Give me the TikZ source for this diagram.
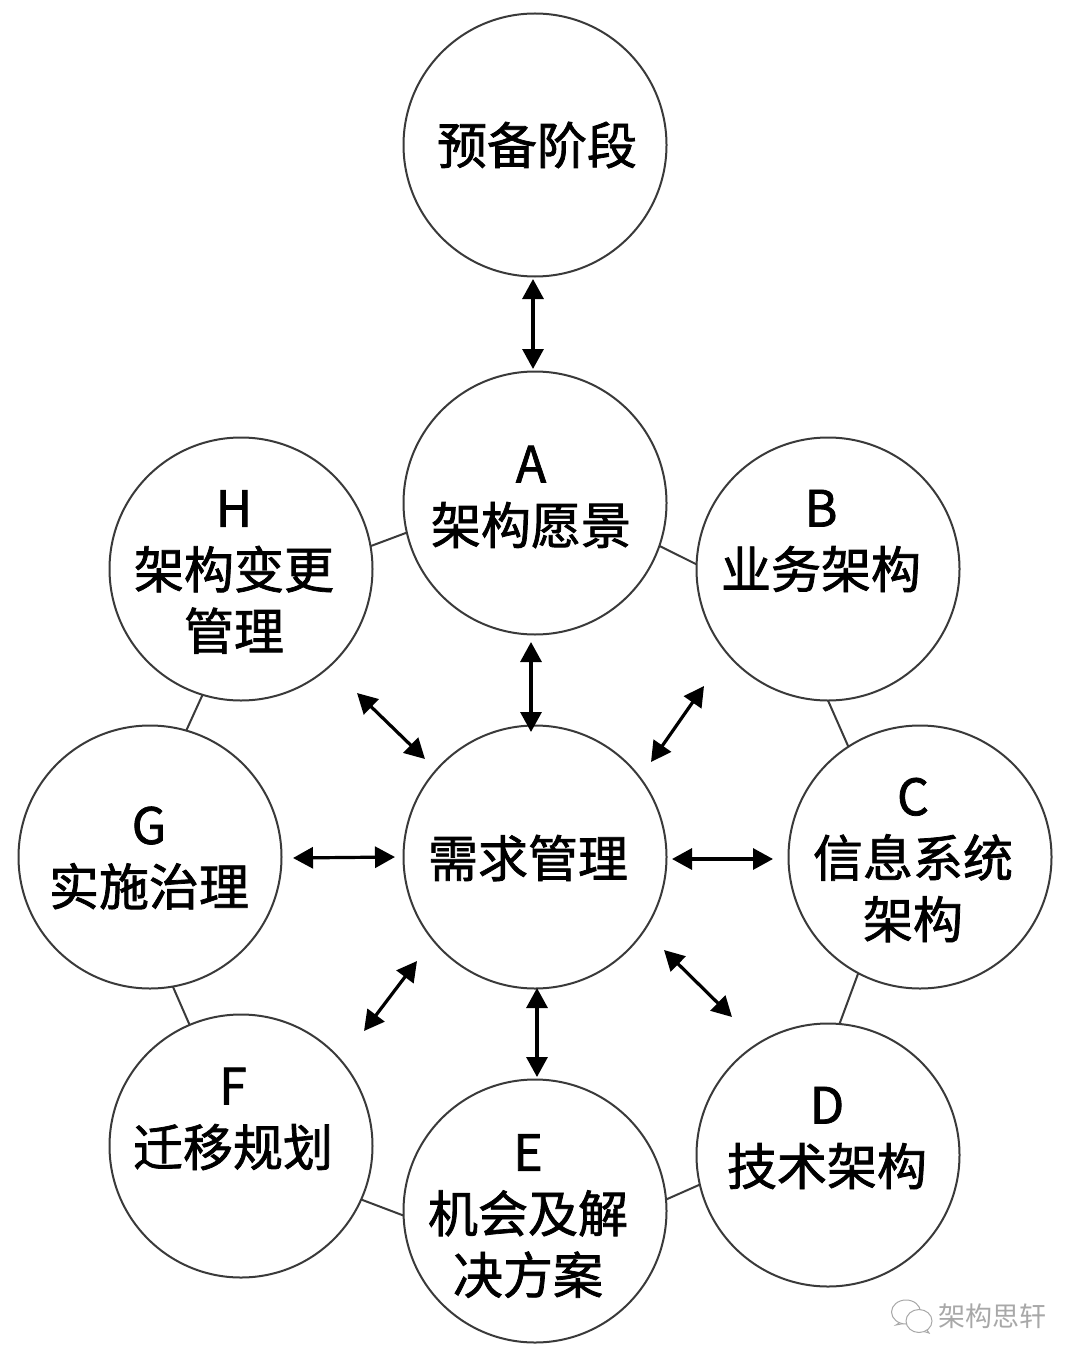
\documentclass[tikz,border=0pt]{standalone}
\usepackage{fontspec}
\setmainfont{Noto Sans CJK SC}
\newfontfamily\phasefont[FakeBold=1.5]{Noto Sans CJK SC}
\usetikzlibrary{arrows.meta,shapes.geometric}
\definecolor{ringline}{HTML}{3A3A3A}
\definecolor{markgray}{HTML}{A8A8A8}
\tikzset{
	phase/.style={circle,draw=ringline,line width=2pt,fill=white,minimum size=263pt,inner sep=0pt,outer sep=0pt},
	phasetext/.style={align=center,text=black,inner sep=0pt,font=\phasefont\fontsize{50}{61.5}\selectfont},
	link/.style={line width=3.2pt,{Triangle[width=21pt,length=20pt]}-{Triangle[width=21pt,length=20pt]}},
	ring/.style={line width=2pt,color=ringline},
	bubble/.style={line width=1pt,color=markgray,fill=white}
}
\begin{document}
\begin{tikzpicture}[x=1pt,y=-1pt]
	\useasboundingbox (0,0) rectangle (1080,1364);

	% draw circles

	\node[phase] (pre) at (535,145) {};
	\node[phase] (a) at (535,503) {};
	\node[phase] (b) at (828,569) {};
	\node[phase] (c) at (920,857) {};
	\node[phase] (d) at (828,1155) {};
	\node[phase] (e) at (535,1211) {};
	\node[phase] (f) at (241,1146) {};
	\node[phase] (g) at (150,857) {};
	\node[phase] (h) at (241,569) {};
	\node[phase] (req) at (535,857) {};

	% outer ring

	\draw[ring] (h.10) -- (a.193);
	\draw[ring] (a.341) -- (b.178);
	\draw[ring] (b.270) -- (c.123);
	\draw[ring] (c.242) -- (d.85);
	\draw[ring] (d.193) -- (e.5);
	\draw[ring] (e.182) -- (f.336);
	\draw[ring] (f.113) -- (g.280);
	\draw[ring] (g.74) -- (h.253);

	% labels

	\node[phasetext] (pretext) at (537,145) {预备阶段};
	\node[phasetext] (atext) at (531,497) {A\\架构愿景};
	\node[phasetext] (btext) at (821,541) {B\\业务架构};
	\node[phasetext] (ctext) at (913,860) {C\\信息系统\\架构};
	\node[phasetext] (dtext) at (827,1138) {D\\技术架构};
	\node[phasetext] (etext) at (528,1216) {E\\机会及解\\决方案};
	\node[phasetext] (ftext) at (233,1119) {F\\迁移规划};
	\node[phasetext] (gtext) at (149,858) {G\\实施治理};
	\node[phasetext] (htext) at (234,572) {H\\架构变更\\管理};
	\node[phasetext] (reqtext) at (528,858) {需求管理};

	% arrows

	\coordinate (preend) at (533,279);
	\coordinate (prestart) at (533,369);
	\coordinate (aend) at (531,642);
	\coordinate (astart) at (531,732);
	\coordinate (bend) at (704,686);
	\coordinate (bstart) at (651,762);
	\coordinate (cend) at (773,859);
	\coordinate (cstart) at (672,859);
	\coordinate (dend) at (732,1017);
	\coordinate (dstart) at (664,950);
	\coordinate (eend) at (537,1077);
	\coordinate (estart) at (537,988);
	\coordinate (fend) at (364,1031);
	\coordinate (fstart) at (417,961);
	\coordinate (gend) at (293,858);
	\coordinate (gstart) at (395,857);
	\coordinate (hend) at (357,693);
	\coordinate (hstart) at (425,759);

	\foreach \tip in {pre,a,b,c,d,e,f,g,h}
		\draw[link] (\tip end) -- (\tip start);

	% watermark

	\draw[bubble] (899,1323) -- (896,1325) -- (906,1323);
	\node[bubble,draw,ellipse,minimum width=29pt,minimum height=24pt,inner sep=0pt] (backchat) at (906,1312) {};
	\draw[bubble] (925,1327) -- (929,1333) -- (919,1330);
	\node[bubble,draw,ellipse,minimum width=26pt,minimum height=23pt,inner sep=0pt] (frontchat) at (919,1321) {};
	\node[text=markgray,inner sep=0pt,font=\fontsize{27}{27}\selectfont] (mark) at (992,1316) {架构思轩};
\end{tikzpicture}
\end{document}
